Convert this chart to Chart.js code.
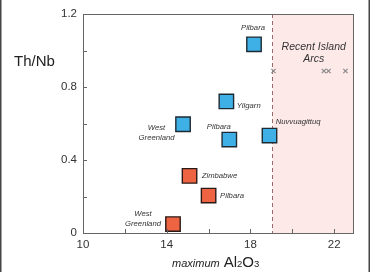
<!DOCTYPE html>
<html>
<head>
<meta charset="utf-8">
<script src="https://cdn.jsdelivr.net/npm/chart.js@4"></script>
<style>
html,body{margin:0;padding:0;background:#fff;}
#wrap{position:relative;width:370px;height:272px;}
canvas{display:block;}
</style>
</head>
<body>
<div id="wrap"><canvas id="c" width="370" height="272"></canvas></div>
<script>
// ---- data ----
const blueNames = ['Pilbara', 'Yilgarn', 'West\nGreenland', 'Pilbara', 'Nuvvuagittuq'];
const blueAl2O3 = [18.17, 16.85, 14.78, 16.99, 18.91];
const blueThNb  = [1.034, 0.721, 0.596, 0.512, 0.534];

const orangeNames = ['Zimbabwe', 'Pilbara', 'West\nGreenland'];
const orangeAl2O3 = [15.09, 16.0, 14.3];
const orangeThNb  = [0.313, 0.205, 0.049];

const arcAl2O3 = [19.1, 21.51, 21.73, 22.54];
const arcThNb  = [0.888, 0.888, 0.888, 0.888];

const arcBoundary = 19.05;
const arcLabel = ['Recent Island', 'Arcs'];

const xLabelValues = [10, 14, 18, 22];
const yLabelValues = [0, 0.4, 0.8, 1.2];

// label placement (pixels relative to point centre)
const blueLabelPos = [
  {dx: -1, dy: -16, align: 'center'},
  {dx: 10.5, dy: 4.5, align: 'left'},
  {dx: -26.5, dy: 3.5, align: 'center'},
  {dx: -10.5, dy: -13, align: 'center'},
  {dx: 6.2, dy: -13.2, align: 'left'}
];
const orangeLabelPos = [
  {dx: 12.2, dy: 0, align: 'left'},
  {dx: 11.5, dy: 0, align: 'left'},
  {dx: -30, dy: -10, align: 'center'}
];

const FONT = '"Liberation Sans", Arial, Helvetica, sans-serif';

const toPts = (xs, ys) => xs.map((x, i) => ({x: x, y: ys[i]}));
const near = (v, arr) => arr.some(a => Math.abs(a - v) < 1e-6);

const decor = {
  id: 'decor',
  beforeDatasetsDraw(chart) {
    const {ctx, chartArea: a, scales: {x, y}} = chart;
    const bx = x.getPixelForValue(arcBoundary);
    ctx.save();
    ctx.fillStyle = '#fde9e8';
    ctx.fillRect(bx, a.top, a.right - bx, a.bottom - a.top);
    ctx.strokeStyle = '#9a6a6a';
    ctx.lineWidth = 1;
    ctx.setLineDash([4, 3]);
    ctx.beginPath();
    ctx.moveTo(Math.round(bx) + 0.5, a.top);
    ctx.lineTo(Math.round(bx) + 0.5, a.bottom);
    ctx.stroke();
    ctx.setLineDash([]);
    // Recent Island Arcs text
    ctx.fillStyle = '#333';
    ctx.font = 'italic 10.5px ' + FONT;
    ctx.textAlign = 'center';
    ctx.textBaseline = 'middle';
    const cx = (bx + a.right) / 2 + 1;
    ctx.fillText(arcLabel[0], cx, a.top + 33);
    ctx.fillText(arcLabel[1], cx, a.top + 45);
    ctx.restore();
  },
  afterDraw(chart) {
    const {ctx, chartArea: a, scales: {x, y}} = chart;
    ctx.save();
    // frame
    ctx.strokeStyle = '#666';
    ctx.lineWidth = 1;
    ctx.strokeRect(Math.round(a.left) + 0.5, Math.round(a.top) + 0.5,
                   Math.round(a.right - a.left), Math.round(a.bottom - a.top));
    // inside tick marks
    ctx.beginPath();
    y.ticks.forEach(t => {
      if (t.value <= y.min + 1e-6 || t.value >= y.max - 1e-6) return;
      const py = Math.round(y.getPixelForValue(t.value)) + 0.5;
      ctx.moveTo(a.left, py); ctx.lineTo(a.left + 4, py);
    });
    x.ticks.forEach(t => {
      if (t.value <= x.min + 1e-6 || t.value >= x.max - 1e-6) return;
      const px = Math.round(x.getPixelForValue(t.value)) + 0.5;
      ctx.moveTo(px, a.bottom); ctx.lineTo(px, a.bottom - 4);
    });
    ctx.stroke();

    // point labels
    ctx.fillStyle = '#333';
    ctx.font = 'italic 7.7px ' + FONT;
    ctx.textBaseline = 'middle';
    const drawLabels = (dsIndex, names, pos) => {
      const meta = chart.getDatasetMeta(dsIndex);
      meta.data.forEach((el, i) => {
        const p = pos[i];
        ctx.textAlign = p.align;
        names[i].split('\n').forEach((line, k) => {
          ctx.fillText(line, el.x + p.dx, el.y + p.dy + k * 9.8);
        });
      });
    };
    drawLabels(0, blueNames, blueLabelPos);
    drawLabels(1, orangeNames, orangeLabelPos);

    // y title
    ctx.fillStyle = '#222';
    ctx.font = '15px ' + FONT;
    ctx.textAlign = 'left';
    ctx.textBaseline = 'alphabetic';
    ctx.fillText('Th/Nb', 14, 65.5);

    // x title: maximum Al2O3
    const base = 266.5;
    let cx = 172;
    ctx.font = 'italic 11px ' + FONT;
    ctx.fillText('maximum', cx, base);
    cx += ctx.measureText('maximum').width + 4;
    const parts = [['Al', 15], ['2', 9.5], ['O', 15], ['3', 9.5]];
    parts.forEach(([s, sz]) => {
      ctx.font = sz + 'px ' + FONT;
      ctx.fillText(s, cx, base);
      cx += ctx.measureText(s).width;
    });

    // outer frame lines of the picture
    ctx.fillStyle = '#444';
    ctx.fillRect(0, 0, 1.5, chart.height);
    ctx.fillRect(chart.width - 1.5, 0, 1.5, chart.height);
    ctx.restore();
  }
};

new Chart(document.getElementById('c'), {
  type: 'scatter',
  data: {
    datasets: [
      {
        data: toPts(blueAl2O3, blueThNb),
        pointStyle: 'rect', pointRadius: 10.2, pointHoverRadius: 10.2,
        backgroundColor: '#3fb0e6', borderColor: '#1e2a33', borderWidth: 1.4
      },
      {
        data: toPts(orangeAl2O3, orangeThNb),
        pointStyle: 'rect', pointRadius: 10.2, pointHoverRadius: 10.2,
        backgroundColor: '#ee6443', borderColor: '#2a1a16', borderWidth: 1.4
      },
      {
        data: toPts(arcAl2O3, arcThNb),
        pointStyle: 'crossRot', pointRadius: 3, pointHoverRadius: 3,
        borderColor: '#8a8a8a', borderWidth: 1.2
      }
    ]
  },
  options: {
    responsive: false,
    animation: false,
    events: [],
    layout: {padding: {left: 0, top: 14, right: 17, bottom: 0}},
    plugins: {legend: {display: false}, tooltip: {enabled: false}},
    scales: {
      x: {
        type: 'linear', min: 10, max: 22.9,
        border: {display: false},
        grid: {display: false, drawTicks: false},
        ticks: {
          stepSize: 2, includeBounds: false, autoSkip: false, maxRotation: 0,
          padding: 5, color: '#333', font: {family: FONT, size: 11.5},
          callback: v => near(v, xLabelValues) ? String(v) : ''
        },
        afterFit: s => { s.height = 39; }
      },
      y: {
        type: 'linear', min: 0, max: 1.2,
        border: {display: false},
        grid: {display: false, drawTicks: false},
        ticks: {
          stepSize: 0.2, autoSkip: false,
          padding: 6, color: '#333', font: {family: FONT, size: 11.5},
          callback: v => near(v, yLabelValues) ? (Math.round(v * 10) / 10).toString() : ''
        },
        afterFit: s => { s.width = 83; }
      }
    }
  },
  plugins: [decor]
});
</script>
</body>
</html>
